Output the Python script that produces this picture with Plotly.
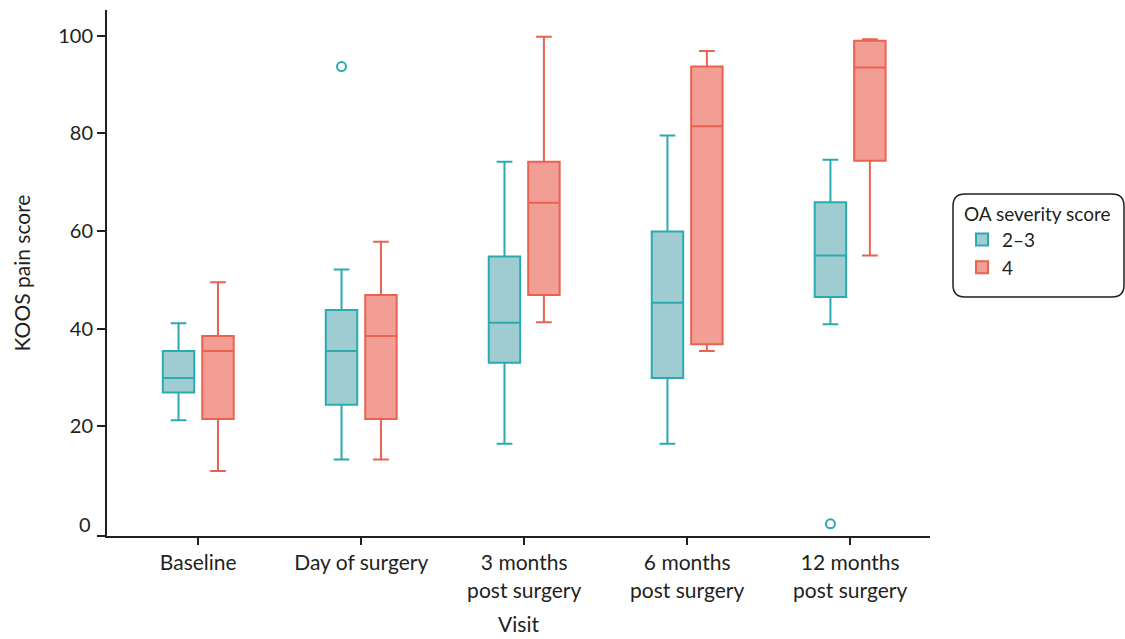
import plotly.graph_objects as go

visits = ["Baseline", "Day of surgery", "3 months<br>post surgery",
          "6 months<br>post surgery", "12 months<br>post surgery"]
y_ticks = [0, 20, 40, 60, 80, 100]

# OA severity 2–3
low_lower = [21.2, 13.2, 16.4, 16.4, 40.9]
low_q1 = [26.9, 24.4, 33.0, 29.9, 46.5]
low_median = [29.9, 35.4, 41.2, 45.3, 55.0]
low_q3 = [35.4, 43.8, 54.8, 59.9, 65.9]
low_upper = [41.1, 52.1, 74.2, 79.6, 74.6]
low_outlier_visit = [1, 4]
low_outlier_value = [93.7, 0.0]

# OA severity 4
high_lower = [10.8, 13.2, 41.3, 35.4, 55.0]
high_q1 = [21.5, 21.5, 46.9, 36.8, 74.4]
high_median = [35.4, 38.5, 65.8, 81.5, 93.5]
high_q3 = [38.5, 46.9, 74.2, 93.7, 99.0]
high_upper = [49.5, 57.8, 99.8, 96.9, 99.3]

TEAL_LINE = "rgb(43,170,176)"
TEAL_FILL = "rgb(158,204,209)"
RED_LINE = "rgb(234,98,82)"
RED_FILL = "rgb(242,158,148)"
AXIS = "#231f20"
FONT = "Lato, 'Open Sans', sans-serif"

shift = 0.121
box_w = 0.193
idx = list(range(len(visits)))

fig = go.Figure()
fig.add_trace(go.Box(
    name="2–3", x=[i - shift for i in idx],
    lowerfence=low_lower, q1=low_q1, median=low_median, q3=low_q3, upperfence=low_upper,
    width=box_w, whiskerwidth=0.5, boxpoints=False,
    line=dict(color=TEAL_LINE, width=2), fillcolor=TEAL_FILL,
))
fig.add_trace(go.Box(
    name="4", x=[i + shift for i in idx],
    lowerfence=high_lower, q1=high_q1, median=high_median, q3=high_q3, upperfence=high_upper,
    width=box_w, whiskerwidth=0.5, boxpoints=False,
    line=dict(color=RED_LINE, width=2), fillcolor=RED_FILL,
))
fig.add_trace(go.Scatter(
    x=[v - shift for v in low_outlier_visit], y=low_outlier_value, mode="markers",
    marker=dict(symbol="circle-open", size=9, color=TEAL_LINE, line=dict(width=2)),
    showlegend=False, hoverinfo="skip",
))

W, H = 1125, 639
L, R, T, B = 107, 930, 10, 536


def px(x):
    return (x - L) / (R - L)


def py(y):
    return (B - y) / (B - T)


# rounded frame around the legend
x0, x1, y0, y1, r = 953, 1124, 194, 297, 12
path = (f"M {px(x0 + r)},{py(y0)} L {px(x1 - r)},{py(y0)} "
        f"Q {px(x1)},{py(y0)} {px(x1)},{py(y0 + r)} "
        f"L {px(x1)},{py(y1 - r)} Q {px(x1)},{py(y1)} {px(x1 - r)},{py(y1)} "
        f"L {px(x0 + r)},{py(y1)} Q {px(x0)},{py(y1)} {px(x0)},{py(y1 - r)} "
        f"L {px(x0)},{py(y0 + r)} Q {px(x0)},{py(y0)} {px(x0 + r)},{py(y0)} Z")

fig.update_layout(
    width=W, height=H,
    margin=dict(l=L, r=W - R, t=T, b=H - B),
    plot_bgcolor="white", paper_bgcolor="white",
    font=dict(family=FONT, size=21, color=AXIS),
    boxmode="overlay",
    showlegend=True,
    legend=dict(
        title=dict(text="OA severity score", font=dict(size=19)),
        font=dict(size=19),
        x=px(962), y=py(196), xanchor="left", yanchor="top",
        bgcolor="rgba(0,0,0,0)", borderwidth=0, tracegroupgap=2,
    ),
    shapes=[
        dict(type="path", path=path, xref="paper", yref="paper",
             line=dict(color=AXIS, width=1.5), layer="above"),
        dict(type="line", xref="paper", yref="paper", x0=px(97), x1=0, y0=0, y1=0,
             line=dict(color=AXIS, width=2)),
    ],
    # the zero label is written without a tick mark
    annotations=[dict(text=str(y_ticks[0]), x=0, xref="paper", y=y_ticks[0], yref="y",
                      xanchor="right", yanchor="middle", xshift=-14, showarrow=False,
                      font=dict(size=20))],
    xaxis=dict(
        range=[-0.56, 4.49], tickmode="array", tickvals=idx, ticktext=visits,
        showline=True, linecolor=AXIS, linewidth=2, ticks="outside",
        ticklen=7, tickwidth=2, tickcolor=AXIS, showgrid=False, zeroline=False,
        automargin=False,
        title=dict(text="Visit", font=dict(size=21), standoff=17),
    ),
    yaxis=dict(
        range=[-2.5, 105.3], tickmode="array", tickvals=y_ticks[1:],
        tickfont=dict(size=20), automargin=False,
        showline=True, linecolor=AXIS, linewidth=2, ticks="outside",
        ticklen=8, tickwidth=2, tickcolor=AXIS, showgrid=False, zeroline=False,
        title=dict(text="KOOS pain score", font=dict(size=21), standoff=22),
    ),
)

fig.write_html("out.html")
